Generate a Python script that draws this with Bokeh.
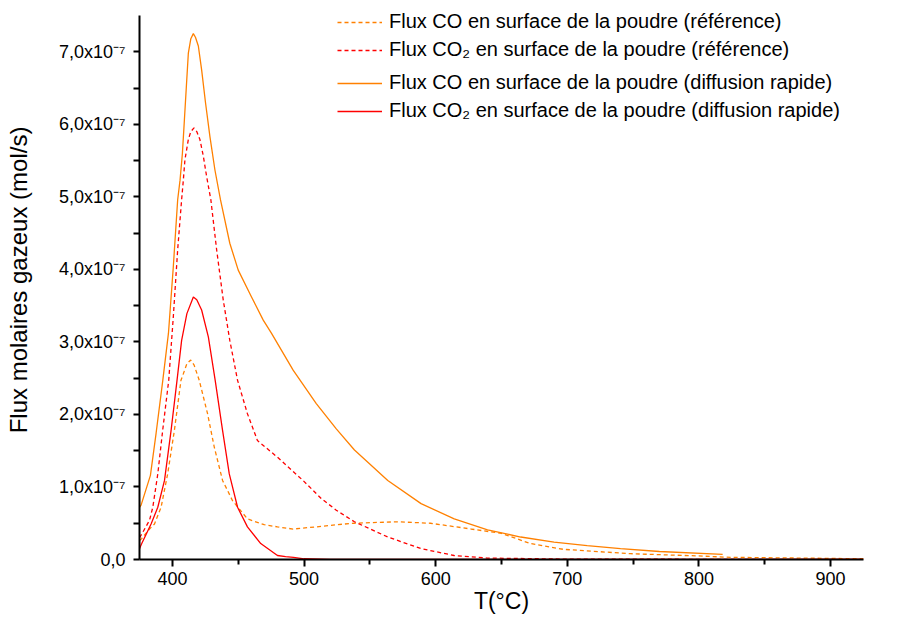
from bokeh.plotting import figure
from bokeh.models import (Range1d, FixedTicker, CustomJSTickFormatter, Legend,
                          LegendItem, ColumnDataSource)
from bokeh.embed import file_html
from bokeh.resources import INLINE

UNIT = 1e-7  # values below are in units of 1e-7 mol/s

# Flux CO en surface de la poudre (référence) - orange dashed
co_ref_T = [375, 376.7, 382.6, 386.4, 391.4, 396.4, 401.5, 406.5, 408.3, 411, 413.9,
            416.5, 420.4, 426.7, 431.8, 438.1, 445.7, 450.7, 457, 469.7, 479.8, 491.7,
            509.3, 525, 538, 571, 596, 627, 650, 672, 697, 748, 798, 824, 925]
co_ref_V = [0.26, 0.29, 0.42, 0.49, 0.72, 1.18, 1.78, 2.47, 2.56, 2.70, 2.75,
            2.68, 2.47, 2.01, 1.55, 1.09, 0.81, 0.70, 0.56, 0.48, 0.45, 0.42,
            0.45, 0.48, 0.50, 0.52, 0.50, 0.42, 0.36, 0.22, 0.14, 0.08, 0.05, 0.03, 0.01]

# Flux CO2 en surface de la poudre (référence) - red dashed
co2_ref_T = [375, 376.7, 382.6, 385.1, 388.9, 392.6, 397.2, 400.7, 404, 407, 408.3,
             409.5, 412.1, 414, 416.4, 418.5, 420.9, 423.5, 426, 429.2, 433.6, 438.6,
             443.6, 449.5, 457, 464.6, 479.8, 499.2, 513.1, 524.5, 538.3, 563.6,
             588.9, 614, 639, 700, 925]
co2_ref_V = [0.30, 0.35, 0.54, 0.72, 1.18, 1.78, 2.47, 3.35, 4.27, 4.96, 5.23,
             5.51, 5.79, 5.90, 5.95, 5.90, 5.79, 5.56, 5.28, 4.96, 4.27, 3.58,
             3.02, 2.47, 2.01, 1.64, 1.41, 1.09, 0.84, 0.68, 0.52, 0.31,
             0.15, 0.055, 0.02, 0.005, 0.0]

# Flux CO en surface de la poudre (diffusion rapide) - orange solid
co_fast_T = [375, 376.2, 383.3, 387.6, 392.7, 397, 400.7, 404, 405.8, 407.6, 409.1,
             410.6, 412.1, 414, 415.9, 417.5, 419.7, 422.2, 425.2, 428.5, 432.3, 436.5,
             443.6, 450, 460.1, 469, 475.2, 491.7, 509.3, 524.5, 538.3, 563.6, 588.9,
             614.1, 639.4, 664.6, 689.9, 715.1, 740.4, 770, 818]
co_fast_V = [0.72, 0.75, 1.16, 1.74, 2.47, 3.12, 4.04, 4.96, 5.23, 5.60, 6.06,
             6.52, 6.98, 7.18, 7.25, 7.20, 7.08, 6.75, 6.29, 5.83, 5.37, 4.96,
             4.36, 3.99, 3.62, 3.30, 3.12, 2.61, 2.15, 1.80, 1.51, 1.09, 0.77,
             0.56, 0.41, 0.31, 0.24, 0.19, 0.15, 0.11, 0.07]

# Flux CO2 en surface de la poudre (diffusion rapide) - red solid
co2_fast_T = [375, 376.7, 383.8, 388.9, 394, 399, 403.5, 407, 411, 415.9, 418.5,
              422.2, 427.3, 432.5, 438.1, 443.2, 449.5, 457, 467.1, 479.8, 486, 492,
              500, 520, 925]
co2_fast_V = [0.15, 0.22, 0.49, 0.72, 1.09, 1.78, 2.47, 3.02, 3.39, 3.62, 3.58,
              3.44, 3.07, 2.47, 1.78, 1.18, 0.72, 0.45, 0.22, 0.055, 0.04, 0.03,
              0.01, 0.0, 0.0]

labels = [
    "Flux CO en surface de la poudre (référence)",
    "Flux CO\u2082 en surface de la poudre (référence)",
    "Flux CO en surface de la poudre (diffusion rapide)",
    "Flux CO\u2082 en surface de la poudre (diffusion rapide)",
]
x_title = "T(°C)"
y_title = "Flux molaires gazeux (mol/s)"

x_major = [400, 500, 600, 700, 800, 900]
x_minor = [450, 550, 650, 750, 850]
y_major = [i * UNIT for i in range(8)]
y_minor = [(i + 0.5) * UNIT for i in range(7)]
Y_AXIS_END = 7.5  # top of the drawn y axis (x1e-7)

ORANGE = "#ff8000"
RED = "#ff0000"
FONT = "Liberation Sans"

# layout: frame spans the full top of the canvas so nothing inside is clipped;
# the y axis line itself stops at Y_AXIS_END.
FRAME_H = 559   # px, frame height (top border 0, bottom border 62)
AXIS_H = 544    # px, length of the drawn y axis
p = figure(width=900, height=621, output_backend="svg", toolbar_location=None,
           x_range=Range1d(375, 925),
           y_range=Range1d(0, Y_AXIS_END * UNIT * FRAME_H / AXIS_H),
           min_border_left=139, min_border_right=37, min_border_top=0,
           min_border_bottom=62)
p.outline_line_color = None
p.grid.visible = False
p.background_fill_color = "white"


def src(T, V):
    return ColumnDataSource(dict(x=T, y=[v * UNIT for v in V]))


DASH = "4 3"
r1 = p.line("x", "y", source=src(co_ref_T, co_ref_V), line_color=ORANGE,
            line_width=1.3, line_dash=DASH)
r2 = p.line("x", "y", source=src(co2_ref_T, co2_ref_V), line_color=RED,
            line_width=1.3, line_dash=DASH)
r3 = p.line("x", "y", source=src(co_fast_T, co_fast_V), line_color=ORANGE,
            line_width=1.3)
r4 = p.line("x", "y", source=src(co2_fast_T, co2_fast_V), line_color=RED,
            line_width=1.3)

# axes
p.xaxis.ticker = FixedTicker(ticks=x_major, minor_ticks=x_minor)
p.yaxis.ticker = FixedTicker(ticks=y_major, minor_ticks=y_minor)
p.yaxis.bounds = (0, Y_AXIS_END * UNIT)
p.yaxis.formatter = CustomJSTickFormatter(code="""
if (Math.abs(tick) < 1e-12) return '0,0';
const v = tick / 1e-7;
return v.toFixed(1).replace('.', ',') + 'x10\u207b\u2077';
""")
for ax in (p.xaxis[0], p.yaxis[0]):
    ax.axis_line_color = "black"
    ax.axis_line_width = 2
    ax.major_tick_line_color = "black"
    ax.major_tick_line_width = 2
    ax.minor_tick_line_color = "black"
    ax.minor_tick_line_width = 2
    ax.major_tick_in = 0
    ax.minor_tick_in = 0
    ax.major_label_text_font = FONT
    ax.major_label_text_font_size = "18px"
    ax.major_label_text_color = "black"
    ax.axis_label_text_font = FONT
    ax.axis_label_text_font_style = "normal"
    ax.axis_label_text_color = "black"

p.xaxis.axis_label = x_title
p.yaxis.axis_label = y_title
p.xaxis.axis_label_text_font_size = "23px"
p.yaxis.axis_label_text_font_size = "24px"
p.xaxis.major_tick_out = 7
p.xaxis.minor_tick_out = 5
p.yaxis.major_tick_out = 6
p.yaxis.minor_tick_out = 6
p.xaxis.major_label_standoff = 5
p.xaxis.axis_label_standoff = 0
p.yaxis.major_label_standoff = 8
p.yaxis.axis_label_standoff = 24

# legends (two groups, as in the reference)
leg1 = Legend(items=[LegendItem(label=labels[0], renderers=[r1]),
                     LegendItem(label=labels[1], renderers=[r2])],
              location=(198, 498))
leg2 = Legend(items=[LegendItem(label=labels[2], renderers=[r3]),
                     LegendItem(label=labels[3], renderers=[r4])],
              location=(198, 437))
for lg in (leg1, leg2):
    lg.border_line_color = None
    lg.background_fill_alpha = 0
    lg.padding = 0
    lg.margin = 0
    lg.spacing = 5
    lg.label_height = 22
    lg.glyph_height = 22
    lg.glyph_width = 45
    lg.label_standoff = 7
    lg.label_text_font = FONT
    lg.label_text_font_size = "20px"
    lg.label_text_color = "black"
    p.add_layout(lg)

open("out.html", "w").write(file_html(p, INLINE))
